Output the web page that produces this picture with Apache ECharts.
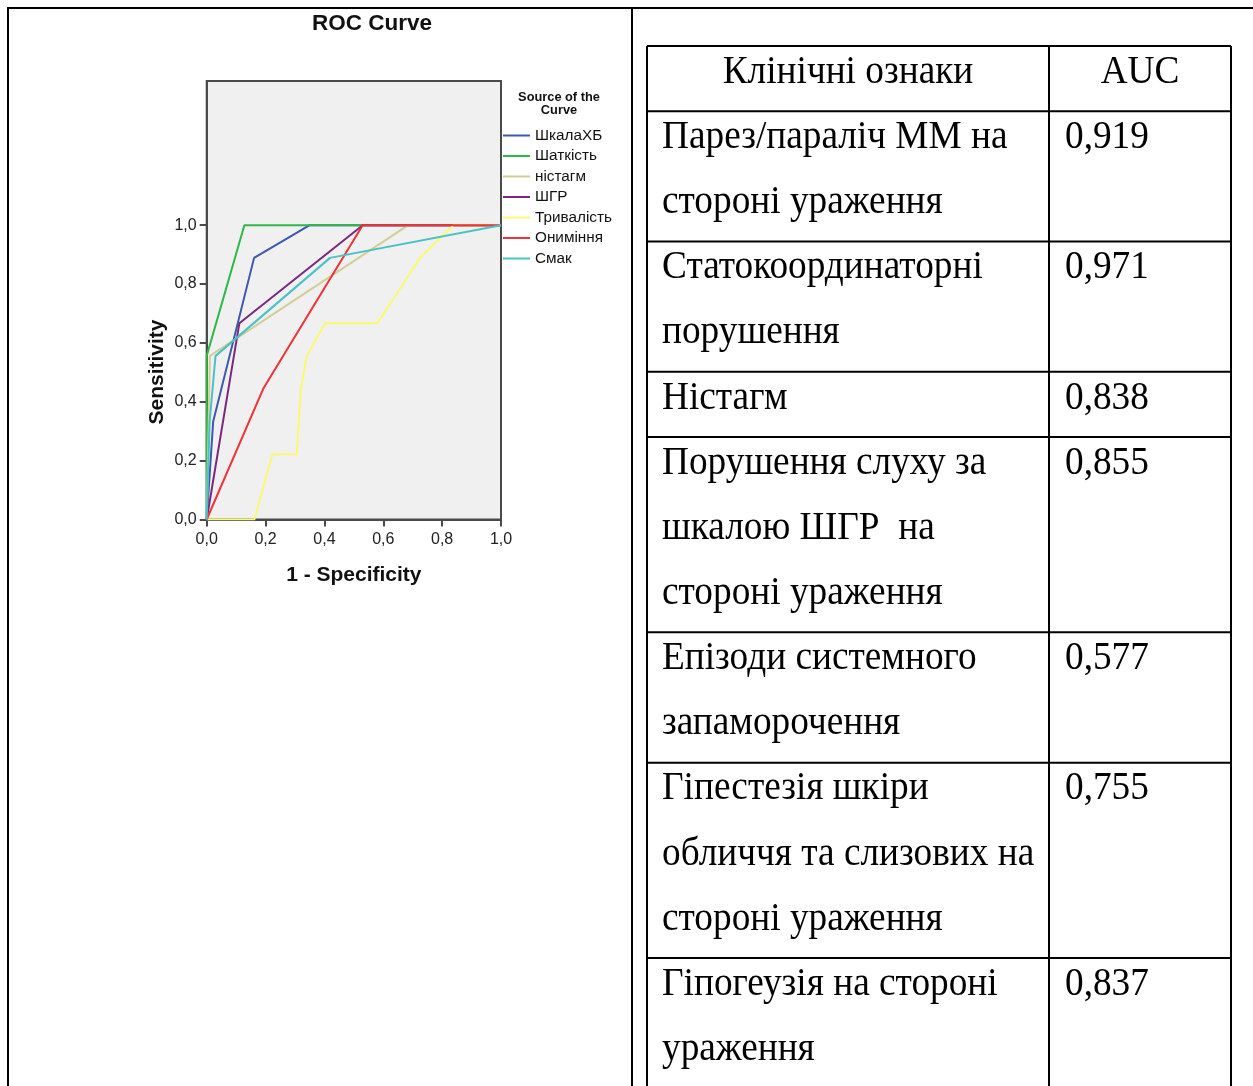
<!DOCTYPE html>
<html>
<head>
<meta charset="utf-8">
<script src="https://cdn.jsdelivr.net/npm/echarts@6/dist/echarts.min.js"></script>
<style>
  html, body { margin: 0; padding: 0; background: #fff; }
  #chart { width: 1253px; height: 1086px; }
</style>
</head>
<body>
<div id="chart"></div>
<script>
// ROC curves: 1 - specificity (x) and sensitivity (y) per variable
const seriesNames = ['ШкалаХБ', 'Шаткість', 'ністагм', 'ШГР', 'Тривалість', 'Онимiння', 'Смак'];
const seriesColors = ['#3E58AC', '#2EB848', '#D3CE97', '#7C287D', '#FBF873', '#EF3338', '#48C2C5'];

const fprShkalaHB = [0, 0.022, 0.161, 0.35, 1];
const tprShkalaHB = [0, 0.333, 0.889, 1, 1];
const fprShatkist = [0, 0, 0.128, 1];
const tprShatkist = [0, 0.556, 1, 1];
const fprNistagm = [0, 0.011, 0.685, 1];
const tprNistagm = [0, 0.556, 1, 1];
const fprShGR = [0, 0.111, 0.53, 1];
const tprShGR = [0, 0.667, 1, 1];
const fprTryvalist = [0, 0.162, 0.223, 0.306, 0.32, 0.34, 0.402, 0.58, 0.725, 0.838, 1];
const tprTryvalist = [0, 0, 0.222, 0.222, 0.444, 0.556, 0.667, 0.667, 0.889, 1, 1];
const fprOnyminnia = [0, 0.192, 0.53, 1];
const tprOnyminnia = [0, 0.444, 1, 1];
const fprSmak = [0, 0.01, 0.03, 0.419, 1];
const tprSmak = [0, 0.333, 0.556, 0.889, 1];

const axisTicks = [0, 0.2, 0.4, 0.6, 0.8, 1.0];

// AUC table
const tableHeader = ['Клінічні ознаки', 'AUC'];
const clinicalSigns = [
  ['Парез/параліч ММ на', 'стороні ураження'],
  ['Статокоординаторні', 'порушення'],
  ['Ністагм'],
  ['Порушення слуху за', 'шкалою ШГР  на', 'стороні ураження'],
  ['Епізоди системного', 'запаморочення'],
  ['Гіпестезія шкіри', 'обличчя та слизових на', 'стороні ураження'],
  ['Гіпогеузія на стороні', 'ураження']
];
const aucValues = [0.919, 0.971, 0.838, 0.855, 0.577, 0.755, 0.837];

const curves = [
  [fprShkalaHB, tprShkalaHB], [fprShatkist, tprShatkist], [fprNistagm, tprNistagm],
  [fprShGR, tprShGR], [fprTryvalist, tprTryvalist], [fprOnyminnia, tprOnyminnia], [fprSmak, tprSmak]
];

const fmt = v => v.toFixed(1).replace('.', ',');

// Page frame and table layout
const graphics = [];
const BLACK = '#000';
function hline(x1, x2, y, w) {
  graphics.push({ type: 'line', silent: true, shape: { x1, y1: y, x2, y2: y }, style: { stroke: BLACK, lineWidth: w } });
}
function vline(x, y1, y2, w) {
  graphics.push({ type: 'line', silent: true, shape: { x1: x, y1, x2: x, y2 }, style: { stroke: BLACK, lineWidth: w } });
}
hline(7, 1253, 8, 2);
vline(8, 7, 1086, 2);
vline(632, 7, 1086, 2);

const tLeft = 647, tMid = 1049, tRight = 1231, tTop = 46, lineH = 65.15;
const serif = '"Liberation Serif", "Times New Roman", serif';
const tSize = 37.3;
function tText(text, x, y, align) {
  graphics.push({
    type: 'text', silent: true, x, y, scaleY: 1.1,
    style: { text, fill: BLACK, fontSize: tSize, fontFamily: serif, textAlign: align, textVerticalAlign: 'middle' }
  });
}
hline(tLeft, tRight, tTop, 2);
tText(tableHeader[0], (tLeft + tMid) / 2, tTop + 26, 'center');
tText(tableHeader[1], (tMid + tRight) / 2, tTop + 26, 'center');
let lineIdx = 1;
clinicalSigns.forEach((lines, r) => {
  const top = tTop + lineH * lineIdx;
  hline(tLeft, tRight, top, 2);
  lines.forEach((s, i) => tText(s, 662, top + 26 + lineH * i, 'left'));
  tText(aucValues[r].toFixed(3).replace('.', ','), 1065, top + 26, 'left');
  lineIdx += lines.length;
});
vline(tLeft, tTop, 1086, 2);
vline(tMid, tTop, 1086, 2);
vline(tRight, tTop, 1086, 2);

// Chart texts
const sans = '"Liberation Sans", Arial, sans-serif';
graphics.push({ type: 'text', silent: true, x: 372, y: 24,
  style: { text: 'ROC Curve', fill: '#111', fontSize: 22.5, fontWeight: 'bold', fontFamily: sans, textAlign: 'center', textVerticalAlign: 'middle' } });
graphics.push({ type: 'text', silent: true, x: 157, y: 372, rotation: Math.PI / 2,
  style: { text: 'Sensitivity', fill: '#111', fontSize: 21, fontWeight: 'bold', fontFamily: sans, textAlign: 'center', textVerticalAlign: 'middle' } });
graphics.push({ type: 'text', silent: true, x: 559, y: 97,
  style: { text: 'Source of the', fill: '#111', fontSize: 12.8, fontWeight: 'bold', fontFamily: sans, textAlign: 'center', textVerticalAlign: 'middle' } });
graphics.push({ type: 'text', silent: true, x: 559, y: 110,
  style: { text: 'Curve', fill: '#111', fontSize: 12.8, fontWeight: 'bold', fontFamily: sans, textAlign: 'center', textVerticalAlign: 'middle' } });

const axisColor = '#4a4a4a';
const chart = echarts.init(document.getElementById('chart'), null, { renderer: 'canvas' });
chart.setOption({
  animation: false,
  backgroundColor: '#fff',
  color: seriesColors,
  grid: {
    left: 206.7, right: 1253 - 501, top: 81, bottom: 1086 - 519.5,
    show: true, backgroundColor: '#F0F0F0', borderColor: axisColor, borderWidth: 2
  },
  legend: {
    data: seriesNames,
    orient: 'vertical',
    left: 503, top: 128, padding: 0,
    icon: 'rect', itemWidth: 27, itemHeight: 2, itemGap: 5.5,
    textStyle: { fontSize: 15.3, lineHeight: 14, color: '#111', fontFamily: sans }
  },
  xAxis: {
    type: 'value', min: 0, max: 1, interval: 0.2,
    name: '1 - Specificity', nameLocation: 'middle', nameGap: 45,
    nameTextStyle: { fontSize: 21, fontWeight: 'bold', color: '#111', fontFamily: sans },
    axisLine: { show: true, lineStyle: { color: axisColor, width: 2 } },
    axisTick: { show: true, length: 7, lineStyle: { color: axisColor, width: 2 } },
    axisLabel: { formatter: fmt, fontSize: 16, color: '#222', margin: 12, fontFamily: sans },
    splitLine: { show: false }
  },
  yAxis: {
    type: 'value', min: 0, max: 1.49, interval: 0.2,
    axisLine: { show: true, lineStyle: { color: axisColor, width: 2 } },
    axisTick: { show: true, length: 7, customValues: axisTicks, lineStyle: { color: axisColor, width: 2 } },
    axisLabel: { formatter: fmt, customValues: axisTicks, fontSize: 16, color: '#222', margin: 10, fontFamily: sans },
    splitLine: { show: false }
  },
  graphic: graphics,
  series: curves.map((c, k) => ({
    name: seriesNames[k],
    type: 'line',
    symbol: 'none',
    lineStyle: { width: 2 },
    data: c[0].map((x, i) => [x, c[1][i]])
  }))
});
</script>
</body>
</html>
